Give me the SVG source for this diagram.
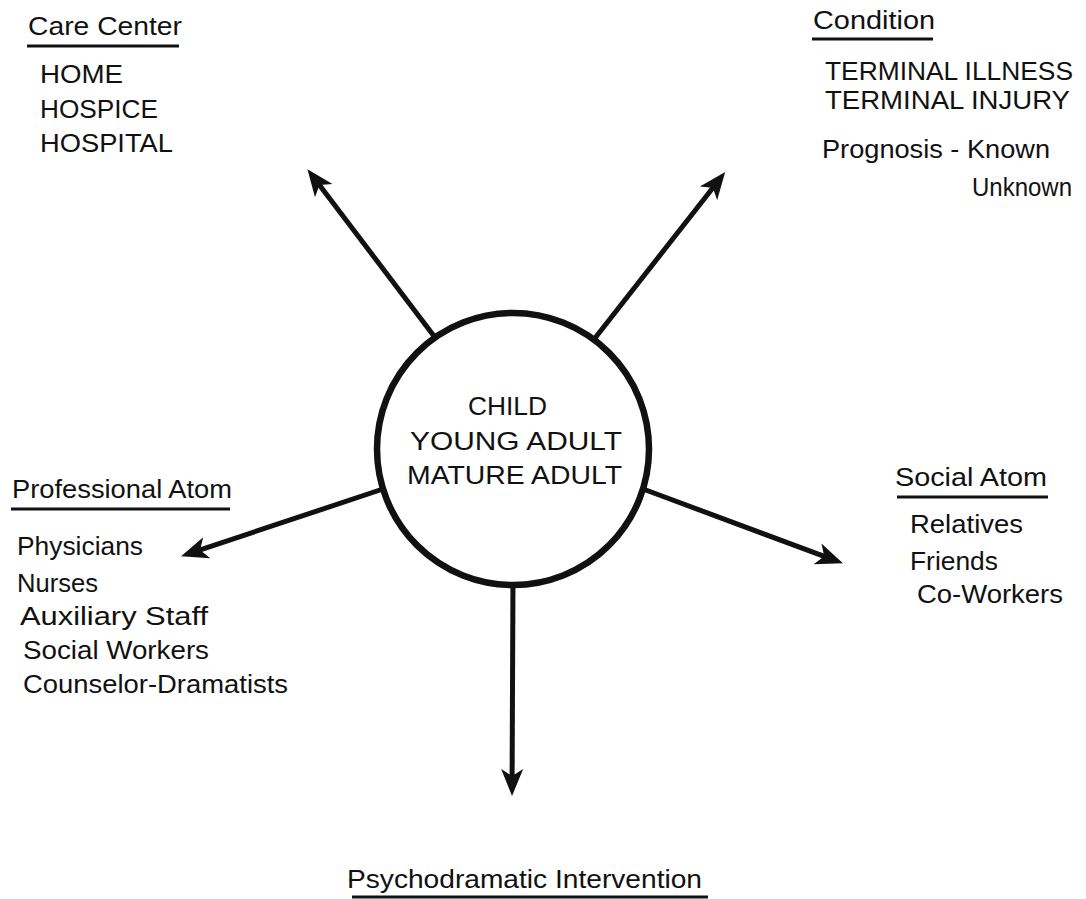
<svg xmlns="http://www.w3.org/2000/svg" width="1086" height="899" viewBox="0 0 1086 899">
<style>
.t{font-family:"Liberation Sans",Arial,sans-serif;font-size:26px;fill:#111}
.ul{stroke:#111;stroke-width:3;fill:none}
.arr{stroke:#111;stroke-width:5;fill:none;marker-end:url(#ah)}
.ring{stroke:#111;stroke-width:6.5;fill:#fff}
</style>
<defs>
<marker id="ah" markerUnits="userSpaceOnUse" viewBox="0 -12 28 24" markerWidth="28" markerHeight="24" refX="10" refY="0" orient="auto">
<path d="M0,-11 L27,0 L0,11 L7,0 Z" fill="#111"/>
</marker>
</defs>
<rect width="1086" height="899" fill="#fff"/>
<g id="connectors">
<line class="arr" x1="440" y1="344" x2="317.7" y2="182.7"/>
<line class="arr" x1="588" y1="347" x2="714.7" y2="185.5"/>
<line class="arr" x1="392" y1="486" x2="197.2" y2="550.9"/>
<line class="arr" x1="635" y1="486" x2="827" y2="557.4"/>
<line class="arr" x1="513" y1="575" x2="512.1" y2="779"/>
</g>
<g id="center">
<circle class="ring" cx="513" cy="449" r="136"/>
<text class="t" x="468" y="415" textLength="79" lengthAdjust="spacingAndGlyphs">CHILD</text>
<text class="t" x="410" y="450" textLength="212" lengthAdjust="spacingAndGlyphs">YOUNG ADULT</text>
<text class="t" x="407" y="484" textLength="215" lengthAdjust="spacingAndGlyphs">MATURE ADULT</text>
</g>
<g id="care-center">
<text class="t" x="28" y="35" textLength="154" lengthAdjust="spacingAndGlyphs">Care Center</text>
<line class="ul" x1="27" y1="46" x2="179" y2="46"/>
<text class="t" x="40" y="83" textLength="83" lengthAdjust="spacingAndGlyphs">HOME</text>
<text class="t" x="40" y="118" textLength="118" lengthAdjust="spacingAndGlyphs">HOSPICE</text>
<text class="t" x="40" y="152" textLength="133" lengthAdjust="spacingAndGlyphs">HOSPITAL</text>
</g>
<g id="condition">
<text class="t" x="813" y="29" textLength="122" lengthAdjust="spacingAndGlyphs">Condition</text>
<line class="ul" x1="812" y1="39" x2="933" y2="39"/>
<text class="t" x="825" y="80" textLength="248" lengthAdjust="spacingAndGlyphs">TERMINAL ILLNESS</text>
<text class="t" x="825" y="109" textLength="245" lengthAdjust="spacingAndGlyphs">TERMINAL INJURY</text>
<text class="t" x="822" y="158" textLength="228" lengthAdjust="spacingAndGlyphs">Prognosis - Known</text>
<text class="t" x="972" y="196" textLength="100" lengthAdjust="spacingAndGlyphs">Unknown</text>
</g>
<g id="professional-atom">
<text class="t" x="12" y="498" textLength="220" lengthAdjust="spacingAndGlyphs">Professional Atom</text>
<line class="ul" x1="11" y1="509" x2="230" y2="509"/>
<text class="t" x="17" y="555" textLength="126" lengthAdjust="spacingAndGlyphs">Physicians</text>
<text class="t" x="17" y="592" textLength="81" lengthAdjust="spacingAndGlyphs">Nurses</text>
<text class="t" x="20" y="625" textLength="188" lengthAdjust="spacingAndGlyphs">Auxiliary Staff</text>
<text class="t" x="23" y="659" textLength="186" lengthAdjust="spacingAndGlyphs">Social Workers</text>
<text class="t" x="23" y="693" textLength="265" lengthAdjust="spacingAndGlyphs">Counselor-Dramatists</text>
</g>
<g id="social-atom">
<text class="t" x="895" y="486" textLength="152" lengthAdjust="spacingAndGlyphs">Social Atom</text>
<line class="ul" x1="897" y1="497" x2="1048" y2="497"/>
<text class="t" x="910" y="533" textLength="113" lengthAdjust="spacingAndGlyphs">Relatives</text>
<text class="t" x="910" y="570" textLength="88" lengthAdjust="spacingAndGlyphs">Friends</text>
<text class="t" x="917" y="603" textLength="146" lengthAdjust="spacingAndGlyphs">Co-Workers</text>
</g>
<g id="psychodramatic-intervention">
<text class="t" x="347" y="888" textLength="355" lengthAdjust="spacingAndGlyphs">Psychodramatic Intervention</text>
<line class="ul" x1="352" y1="897" x2="708" y2="897"/>
</g>
</svg>
